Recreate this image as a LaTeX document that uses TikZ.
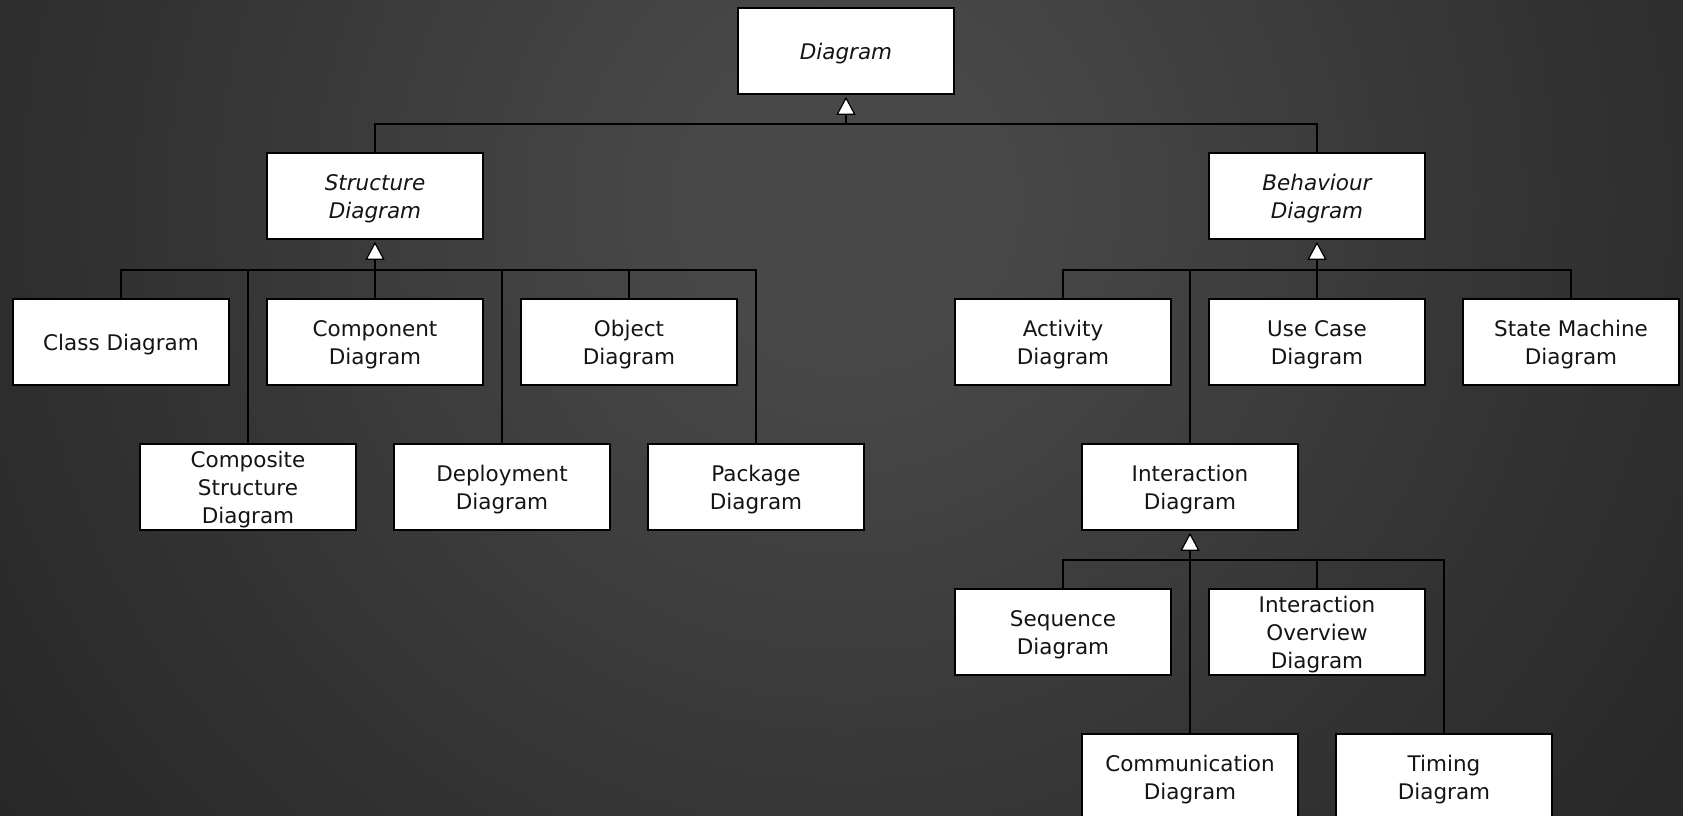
\documentclass[tikz,border=0pt]{standalone}
\usepackage{fontspec}
\setmainfont{DejaVu Sans}
\usetikzlibrary{arrows.meta}
\definecolor{bgin}{RGB}{72,72,72}
\definecolor{bgmid}{RGB}{50,50,50}
\definecolor{bgdark}{RGB}{30,30,30}
\definecolor{bgout}{RGB}{26,26,26}
\definecolor{txt}{RGB}{20,20,20}
\pgfdeclareradialshading{bgshade}{\pgfpoint{0bp}{0bp}}{color(0bp)=(bgin); color(4bp)=(bgin); color(18bp)=(bgmid); color(33bp)=(bgdark); color(50bp)=(bgout)}
\tikzset{
  box/.style={draw=black, line width=1.6pt, fill=white, minimum width=216pt, minimum height=86pt,
    inner sep=0pt, align=center, text=txt, font=\fontsize{21.5}{28}\selectfont,
    text depth=0pt, text height=17.2pt},
  twoline/.style={text height=45.2pt},
  threeline/.style={text height=73.2pt},
  abox/.style={box, font=\fontsize{21.5}{28}\selectfont\itshape},
  conn/.style={draw=black, line width=1.8pt},
  gen/.style={conn, -{Triangle[fill=white, width=19pt, length=18pt, line width=1.2pt]}, shorten >=2pt}
}
\begin{document}
\begin{tikzpicture}[x=1pt, y=-1pt]
\useasboundingbox (0,0) rectangle (1683,816);
\clip (0,0) rectangle (1683,816);
\shade[shading=bgshade] (846-1000,200-1000) rectangle (846+1000,200+1000);

% nodes
\node[abox] (diagram) at (846,51) {Diagram};
\node[abox, twoline] (struct) at (375,196) {Structure\\Diagram};
\node[abox, twoline] (behav) at (1317,196) {Behaviour\\Diagram};

\node[box] (class) at (121,342) {Class Diagram};
\node[box, twoline] (component) at (375,342) {Component\\Diagram};
\node[box, twoline] (object) at (629,342) {Object\\Diagram};
\node[box, threeline] (composite) at (248,487) {Composite\\Structure\\Diagram};
\node[box, twoline] (deploy) at (502,487) {Deployment\\Diagram};
\node[box, twoline] (package) at (756,487) {Package\\Diagram};

\node[box, twoline] (activity) at (1063,342) {Activity\\Diagram};
\node[box, twoline] (usecase) at (1317,342) {Use Case\\Diagram};
\node[box, twoline] (statem) at (1571,342) {State Machine\\Diagram};
\node[box, twoline] (interact) at (1190,487) {Interaction\\Diagram};

\node[box, twoline] (seq) at (1063,632) {Sequence\\Diagram};
\node[box, threeline] (iover) at (1317,632) {Interaction\\Overview\\Diagram};
\node[box, twoline] (comm) at (1190,777) {Communication\\Diagram};
\node[box, twoline] (timing) at (1444,777) {Timing\\Diagram};

% bus coordinates
\coordinate (busD) at (846,124);
\coordinate (busS) at (375,270);
\coordinate (busB) at (1317,270);
\coordinate (busI) at (1190,560);

% Diagram generalization
\draw[conn] (struct.north) |- (busD);
\draw[conn] (behav.north) |- (busD);
\draw[gen] (busD) -- (diagram.south);

% Structure generalization
\draw[conn] (class.north) |- (busS);
\draw[conn] (composite.north) |- (busS);
\draw[conn] (component.north) |- (busS);
\draw[conn] (deploy.north) |- (busS);
\draw[conn] (object.north) |- (busS);
\draw[conn] (package.north) |- (busS);
\draw[gen] (busS) -- (struct.south);

% Behaviour generalization
\draw[conn] (activity.north) |- (busB);
\draw[conn] (interact.north) |- (busB);
\draw[conn] (usecase.north) |- (busB);
\draw[conn] (statem.north) |- (busB);
\draw[gen] (busB) -- (behav.south);

% Interaction generalization
\draw[conn] (seq.north) |- (busI);
\draw[conn] (comm.north) |- (busI);
\draw[conn] (iover.north) |- (busI);
\draw[conn] (timing.north) |- (busI);
\draw[gen] (busI) -- (interact.south);
\end{tikzpicture}
\end{document}
